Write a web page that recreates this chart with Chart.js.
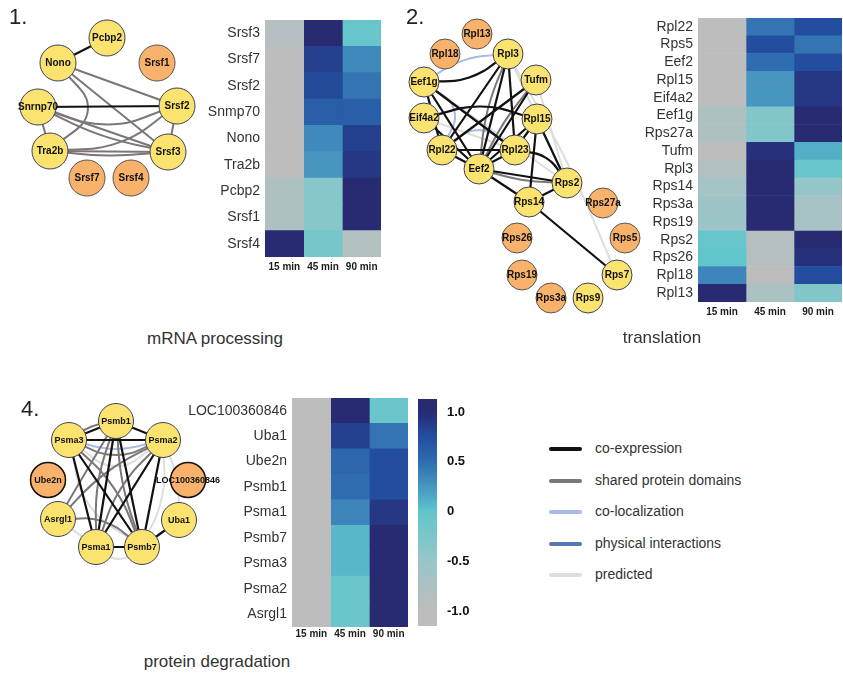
<!DOCTYPE html>
<html>
<head>
<meta charset="utf-8">
<script src="https://cdn.jsdelivr.net/npm/chart.js@4.4.0/dist/chart.umd.min.js"></script>
<style>
  body { margin: 0; background: #fff; font-family: 'Liberation Sans', Arial, sans-serif; }
  #page { position: relative; width: 843px; height: 686px; overflow: hidden; }
  canvas { position: absolute; }
  .num { position: absolute; font-size: 22px; line-height: 22px; color: #222; }
  .title { position: absolute; font-size: 17px; line-height: 17px; color: #333; white-space: nowrap; transform: translateX(-50%); }
  .legline { position: absolute; left: 549px; width: 33px; height: 4px; border-radius: 2px; }
  .legtext { position: absolute; left: 595px; font-size: 14px; line-height: 14px; color: #333; white-space: nowrap; }
</style>
</head>
<body>
<div id="page">
  <canvas id="net1" width="205" height="200" style="left:0;top:0"></canvas>
  <canvas id="net2" width="245" height="320" style="left:400px;top:0"></canvas>
  <canvas id="net4" width="240" height="180" style="left:0;top:390px"></canvas>
  <canvas id="hm1" width="190" height="275" style="left:195px;top:10px"></canvas>
  <canvas id="hm2" width="203" height="320" style="left:640px;top:8px"></canvas>
  <canvas id="hm4" width="232" height="255" style="left:180px;top:388px"></canvas>
  <canvas id="cbar" width="60" height="250" style="left:412px;top:388px"></canvas>

  <div class="num" style="left:9px;top:6px">1.</div>
  <div class="num" style="left:406px;top:6px">2.</div>
  <div class="num" style="left:21px;top:398px">4.</div>
  <div class="title" style="left:215px;top:330px">mRNA processing</div>
  <div class="title" style="left:662px;top:329px">translation</div>
  <div class="title" style="left:217px;top:653px">protein degradation</div>
  <div id="legend"></div>
</div>

<script>
Chart.defaults.font.family = "'Liberation Sans', Arial, sans-serif";

// ---- heatmap data ----
const timeLabels = ['15 min', '45 min', '90 min'];

const hm1Rows = ['Srsf3', 'Srsf7', 'Srsf2', 'Snmp70', 'Nono', 'Tra2b', 'Pcbp2', 'Srsf1', 'Srsf4'];
const hm1T15 = [-0.9, -1, -1, -1, -1, -1, -0.8, -0.8, 1.05];
const hm1T45 = [1.05, 0.85, 0.78, 0.62, 0.33, 0.25, -0.35, -0.35, -0.2];
const hm1T90 = [-0.05, 0.33, 0.45, 0.62, 0.85, 0.9, 1.05, 1.05, -0.85];

const hm2Rows = ['Rpl22', 'Rps5', 'Eef2', 'Rpl15', 'Eif4a2', 'Eef1g', 'Rps27a', 'Tufm',
  'Rpl3', 'Rps14', 'Rps3a', 'Rps19', 'Rps2', 'Rps26', 'Rpl18', 'Rpl13'];
const hm2T15 = [-1, -1, -1, -1, -1, -0.8, -0.8, -1, -0.85, -0.65, -0.6, -0.55, -0.05, 0, 0.35, 1.05];
const hm2T45 = [0.45, 0.75, 0.5, 0.25, 0.25, -0.3, -0.3, 0.95, 1.05, 1.05, 1.05, 1.05, -0.9, -0.9, -1, -0.75];
const hm2T90 = [0.75, 0.45, 0.75, 0.9, 0.9, 1.05, 1.05, 0.12, -0.05, -0.45, -0.7, -0.7, 1.0, 0.95, 0.75, -0.3];

const hm4Rows = ['LOC100360846', 'Uba1', 'Ube2n', 'Psmb1', 'Psma1', 'Psmb7', 'Psma3', 'Psma2', 'Asrgl1'];
const hm4T15 = [-1, -1, -1, -1, -1, -1, -1, -1, -1];
const hm4T45 = [1.05, 0.85, 0.55, 0.5, 0.35, 0.08, 0.08, -0.1, -0.1];
const hm4T90 = [-0.1, 0.45, 0.75, 0.75, 0.9, 1.0, 1.0, 1.05, 1.05];

const colorTicks = [-1, -0.5, 0, 0.5, 1];
const cbMin = -1.15;
const cbMax = 1.13;

// ---- network data ----
const net1Genes = ['Pcbp2', 'Nono', 'Srsf1', 'Snrnp70', 'Srsf2', 'Tra2b', 'Srsf3', 'Srsf7', 'Srsf4'];
const net1X = [107, 58, 157, 38, 177, 50, 168, 87, 131];
const net1Y = [38, 63, 63, 107, 106, 151, 152, 178, 178];
const net1Orange = ['Srsf1', 'Srsf7', 'Srsf4'];
const net1Edges = [
  ['Nono', 'Pcbp2', 'co', 0], ['Snrnp70', 'Srsf2', 'co', 0],
  ['Nono', 'Srsf2', 'sh', 0], ['Nono', 'Srsf3', 'sh', 0], ['Nono', 'Tra2b', 'sh', -34],
  ['Snrnp70', 'Srsf2', 'sh', 18], ['Snrnp70', 'Srsf3', 'sh', 0], ['Snrnp70', 'Srsf3', 'sh', 6],
  ['Tra2b', 'Srsf2', 'sh', 15], ['Tra2b', 'Srsf3', 'sh', 0], ['Tra2b', 'Srsf3', 'sh', 4],
  ['Snrnp70', 'Tra2b', 'sh', 0], ['Srsf2', 'Srsf3', 'sh', 0],
];

const net2Genes = ['Rpl13', 'Rpl18', 'Rpl3', 'Eef1g', 'Tufm', 'Eif4a2', 'Rpl15', 'Rpl22', 'Rpl23', 'Eef2',
  'Rps2', 'Rps14', 'Rps27a', 'Rps26', 'Rps5', 'Rps19', 'Rps7', 'Rps3a', 'Rps9'];
const net2X = [477, 445, 508, 424, 536, 424, 537, 442, 515, 479, 567, 529, 603, 517, 625, 522, 617, 551, 588];
const net2Y = [34, 54, 54, 82, 80, 118, 119, 150, 150, 169, 183, 202, 203, 238, 238, 275, 275, 298, 298];
const net2Orange = ['Rpl13', 'Rpl18', 'Rps27a', 'Rps26', 'Rps5', 'Rps19', 'Rps3a'];
const net2Edges = [
  ['Rpl3', 'Rps7', 'pr', -5], ['Rpl3', 'Rps2', 'pr', 0], ['Eef1g', 'Rps2', 'pr', 0],
  ['Eif4a2', 'Rpl23', 'pr', 0], ['Tufm', 'Rps2', 'pr', 0],
  ['Rpl3', 'Eef2', 'sh', 6], ['Tufm', 'Eef2', 'sh', 4], ['Eef2', 'Rps2', 'sh', 4],
  ['Eef1g', 'Rpl3', 'cl', -8], ['Eef1g', 'Rpl22', 'cl', -22], ['Rpl22', 'Rpl23', 'cl', -20],
  ['Rpl3', 'Eef1g', 'co', -10], ['Rpl3', 'Rpl22', 'co', 0], ['Rpl3', 'Eef2', 'co', 0],
  ['Rpl3', 'Rpl23', 'co', 0], ['Eef1g', 'Rpl23', 'co', 0], ['Eef1g', 'Eef2', 'co', 0],
  ['Eef1g', 'Rpl22', 'co', 0], ['Eif4a2', 'Rpl15', 'co', -12], ['Eif4a2', 'Eef2', 'co', 0],
  ['Tufm', 'Rpl22', 'co', 0], ['Tufm', 'Eef2', 'co', 0], ['Rpl15', 'Eef2', 'co', 0],
  ['Rpl15', 'Rps14', 'co', 0], ['Rpl15', 'Rps2', 'co', 0], ['Rpl15', 'Rpl23', 'co', 0],
  ['Rpl22', 'Rpl23', 'co', 0], ['Rpl22', 'Eef2', 'co', 0], ['Eef2', 'Rpl23', 'co', 0],
  ['Eef2', 'Rps2', 'co', 0], ['Eef2', 'Rps14', 'co', 0], ['Rpl23', 'Rps2', 'co', -10],
  ['Rps14', 'Rps2', 'co', 0], ['Rps14', 'Rps7', 'co', 0],
];

const net4Genes = ['Psmb1', 'Psma3', 'Psma2', 'Ube2n', 'LOC100360846', 'Asrgl1', 'Uba1', 'Psma1', 'Psmb7'];
const net4X = [116, 69, 163, 48, 188, 58, 179, 96, 142];
const net4Y = [421, 440, 440, 480, 480, 519, 520, 547, 547];
const net4Orange = ['Ube2n', 'LOC100360846'];
const net4Edges = [
  ['Psma3', 'Psma2', 'pr', 26], ['Asrgl1', 'Psma1', 'pr', 0], ['Psma1', 'Psmb7', 'pr', 12],
  ['Psma2', 'Psmb7', 'pr', -10], ['Uba1', 'Psma2', 'pr', 6], ['Psma3', 'Psmb7', 'pr', 20],
  ['Asrgl1', 'Psma2', 'pr', -8],
  ['Psmb1', 'Psma3', 'sh', 4], ['Psmb1', 'Asrgl1', 'sh', 0], ['Psmb1', 'Psmb7', 'sh', 6],
  ['Psma2', 'Asrgl1', 'sh', 8], ['Psma2', 'Psma1', 'sh', 10], ['Psma3', 'Psma2', 'sh', 15],
  ['Psma3', 'Psmb7', 'sh', -10], ['Asrgl1', 'Psmb7', 'sh', -12], ['Psmb1', 'Psma1', 'sh', 8],
  ['Psma3', 'Psma2', 'cl', 9],
  ['Psmb1', 'Psma3', 'co', 0], ['Psmb1', 'Psma2', 'co', 0], ['Psma3', 'Psma2', 'co', 0],
  ['Psmb1', 'Psma1', 'co', 0], ['Psmb1', 'Psmb7', 'co', 0], ['Psma3', 'Psma1', 'co', 0],
  ['Psma3', 'Psmb7', 'co', 0], ['Psma2', 'Psma1', 'co', 0], ['Psma2', 'Psmb7', 'co', 0],
  ['Psma1', 'Psmb7', 'co', 0], ['Psmb7', 'Uba1', 'co', 0],
];

const legendKeys = ['co', 'sh', 'cl', 'pi', 'pr'];
const legendNames = ['co-expression', 'shared protein domains', 'co-localization', 'physical interactions', 'predicted'];

// ---- styles ----
const edgeStyles = {
  co: { color: '#111111', width: 2.2, order: 2 },
  sh: { color: '#7d7676', width: 2, order: 3 },
  cl: { color: '#a9bde2', width: 2, order: 3 },
  pi: { color: '#5a74b8', width: 2, order: 3 },
  pr: { color: '#dedede', width: 2, order: 5 },
};

const stopValues = [-1, -0.5, 0, 0.25, 0.5, 0.75, 1];
const stopColors = [[189, 189, 189], [152, 198, 200], [96, 198, 204], [70, 150, 192],
  [47, 108, 176], [35, 78, 160], [40, 42, 114]];

function valueColor(v) {
  if (v <= stopValues[0]) return `rgb(${stopColors[0].join(',')})`;
  for (let i = 1; i < stopValues.length; i++) {
    if (v <= stopValues[i]) {
      const t = (v - stopValues[i - 1]) / (stopValues[i] - stopValues[i - 1]);
      const a = stopColors[i - 1], b = stopColors[i];
      const c = a.map((x, k) => Math.round(x + (b[k] - x) * t));
      return `rgb(${c.join(',')})`;
    }
  }
  return `rgb(${stopColors[stopColors.length - 1].join(',')})`;
}

// axes here never need room outside the plot area for their labels
function noOverflow(s) {
  s.paddingTop = 0; s.paddingBottom = 0; s.paddingLeft = 0; s.paddingRight = 0;
}

function heatmap(id, rows, columns, g) {
  const datasets = columns.map((vals, c) => ({
    data: rows.map(() => [c, c + 1]),
    backgroundColor: vals.map(valueColor),
    borderWidth: 0,
    barPercentage: 1,
    categoryPercentage: 1,
    grouped: false,
  }));
  return new Chart(document.getElementById(id), {
    type: 'bar',
    data: { labels: rows, datasets },
    options: {
      indexAxis: 'y',
      responsive: false,
      animation: false,
      devicePixelRatio: 1,
      layout: { padding: g.pad },
      plugins: { legend: { display: false }, tooltip: { enabled: false } },
      scales: {
        x: {
          type: 'linear', min: 0, max: 3, bounds: 'data',
          grid: { display: false, drawTicks: false },
          border: { display: false },
          afterBuildTicks: s => {
            s.ticks = timeLabels.map((t, i) => ({ value: i + 0.5 }));
            s.min = 0; s.max = 3;
          },
          afterFit: s => { s.height = g.xH; noOverflow(s); },
          ticks: {
            autoSkip: false, maxRotation: 0, padding: g.xPad, color: '#1a1a1a',
            font: { size: 10, weight: 'bold' },
            callback: (v, i) => timeLabels[i],
          },
        },
        y: {
          grid: { display: false, drawTicks: false },
          border: { display: false },
          afterFit: s => { s.width = g.yW; noOverflow(s); },
          ticks: { autoSkip: false, padding: 5, color: '#333', font: { size: 14 } },
        },
      },
    },
  });
}

function network(id, genes, xs, ys, orange, edges, g) {
  const pos = {};
  genes.forEach((n, i) => { pos[n] = { x: xs[i], y: ys[i] }; });
  const edgeSets = edges.map(([a, b, type, bend]) => {
    const pa = pos[a], pb = pos[b];
    const st = edgeStyles[type];
    let pts = [pa, pb];
    if (bend) {
      const dx = pb.x - pa.x, dy = pb.y - pa.y, len = Math.hypot(dx, dy);
      pts = [pa, { x: (pa.x + pb.x) / 2 - dy / len * bend, y: (pa.y + pb.y) / 2 + dx / len * bend }, pb];
    }
    return {
      type: 'line', data: pts, borderColor: st.color, borderWidth: st.width,
      pointRadius: 0, pointHoverRadius: 0, tension: 0.45, fill: false,
      order: st.order, clip: false, borderCapStyle: 'round',
    };
  });
  const isOrange = genes.map(n => orange.includes(n));
  const nodeSet = {
    type: 'scatter',
    data: genes.map((n, i) => ({ x: xs[i], y: ys[i] })),
    pointRadius: g.r,
    pointHoverRadius: g.r,
    backgroundColor: isOrange.map(o => o ? '#f8b26c' : '#fbe36f'),
    borderColor: isOrange.map(o => o ? g.orangeBorder : '#3c3f5c'),
    borderWidth: isOrange.map(o => o ? g.orangeBorderW : 1),
    order: 0,
    clip: false,
  };
  return new Chart(document.getElementById(id), {
    type: 'scatter',
    data: { datasets: [nodeSet, ...edgeSets] },
    options: {
      responsive: false,
      animation: false,
      devicePixelRatio: 1,
      layout: { padding: 0, autoPadding: false },
      plugins: { legend: { display: false }, tooltip: { enabled: false } },
      scales: {
        x: { type: 'linear', display: false, min: g.x0, max: g.x1 },
        y: { type: 'linear', display: false, min: g.y0, max: g.y1, reverse: true },
      },
    },
    plugins: [{
      id: 'nodeLabels',
      afterDatasetsDraw(chart) {
        const ctx = chart.ctx;
        ctx.save();
        ctx.font = `bold ${g.fs}px 'Liberation Sans', Arial, sans-serif`;
        ctx.fillStyle = '#111';
        ctx.textAlign = 'center';
        ctx.textBaseline = 'middle';
        chart.getDatasetMeta(0).data.forEach((pt, i) => ctx.fillText(genes[i], pt.x, pt.y + 0.5));
        ctx.restore();
      },
    }],
  });
}

network('net1', net1Genes, net1X, net1Y, net1Orange, net1Edges,
  { r: 18, fs: 10, x0: 0, x1: 205, y0: 0, y1: 200, orangeBorder: '#555', orangeBorderW: 1 });
network('net2', net2Genes, net2X, net2Y, net2Orange, net2Edges,
  { r: 15, fs: 10, x0: 400, x1: 645, y0: 0, y1: 320, orangeBorder: '#555', orangeBorderW: 1 });
network('net4', net4Genes, net4X, net4Y, net4Orange, net4Edges,
  { r: 17.5, fs: 9, x0: 0, x1: 240, y0: 390, y1: 570, orangeBorder: '#111', orangeBorderW: 1.5 });

heatmap('hm1', hm1Rows, [hm1T15, hm1T45, hm1T90],
  { yW: 70, xH: 24, xPad: 4, pad: { top: 10, right: 4, bottom: 4, left: 0 } });
heatmap('hm2', hm2Rows, [hm2T15, hm2T45, hm2T90],
  { yW: 58, xH: 22, xPad: 4, pad: { top: 10, right: 1, bottom: 4, left: 0 } });
heatmap('hm4', hm4Rows, [hm4T15, hm4T45, hm4T90],
  { yW: 112, xH: 14, xPad: 1, pad: { top: 10, right: 4, bottom: 2, left: 0 } });

// colour bar
new Chart(document.getElementById('cbar'), {
  type: 'bar',
  data: {
    labels: [''],
    datasets: [{
      data: [[cbMin, cbMax]],
      barPercentage: 1,
      categoryPercentage: 1,
      borderWidth: 0,
      backgroundColor: ctx => {
        const chart = ctx.chart;
        const y = chart.scales.y;
        if (!y || !chart.chartArea) return '#9cc';
        const p0 = y.getPixelForValue(cbMin), p1 = y.getPixelForValue(cbMax);
        if (!Number.isFinite(p0) || !Number.isFinite(p1) || p0 === p1) return '#9cc';
        const grad = chart.ctx.createLinearGradient(0, p0, 0, p1);
        for (let k = 0; k <= 40; k++) {
          grad.addColorStop(k / 40, valueColor(cbMin + (cbMax - cbMin) * k / 40));
        }
        return grad;
      },
    }],
  },
  options: {
    responsive: false,
    animation: false,
    devicePixelRatio: 1,
    layout: { padding: { left: 6, top: 11, bottom: 12, right: 0 } },
    plugins: { legend: { display: false }, tooltip: { enabled: false } },
    scales: {
      x: { display: false },
      y: {
        position: 'right', min: cbMin, max: cbMax, bounds: 'data',
        grid: { display: false, drawTicks: false },
        border: { display: false },
        afterBuildTicks: s => {
          s.ticks = colorTicks.map(v => ({ value: v }));
          s.min = cbMin; s.max = cbMax;
        },
        afterFit: s => { s.width = 35; noOverflow(s); },
        ticks: {
          padding: 10, color: '#111', font: { size: 13, weight: 'bold' },
          callback: v => v === 0 ? '0' : v.toFixed(1),
        },
      },
    },
  },
});

// edge legend
const legendY = [449, 481, 512, 544, 575];
const legend = document.getElementById('legend');
legendKeys.forEach((k, i) => {
  const line = document.createElement('div');
  line.className = 'legline';
  line.style.top = (legendY[i] - 2) + 'px';
  line.style.background = edgeStyles[k].color;
  legend.appendChild(line);
  const txt = document.createElement('div');
  txt.className = 'legtext';
  txt.style.top = (legendY[i] - 8) + 'px';
  txt.textContent = legendNames[i];
  legend.appendChild(txt);
});
</script>
</body>
</html>
